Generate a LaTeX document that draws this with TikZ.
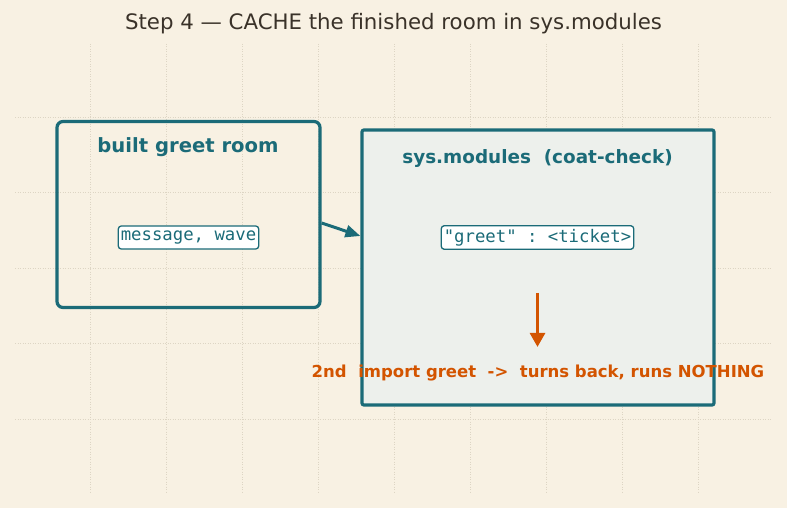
\documentclass[tikz,border=0pt]{standalone}
\usepackage{fontspec}
\setmainfont{DejaVu Sans}
\setmonofont{DejaVu Sans Mono}
\usepackage{xcolor}
\usetikzlibrary{arrows.meta,positioning,calc}

\definecolor{paper}{HTML}{F8F1E3}
\definecolor{roomteal}{HTML}{1B6B78}
\definecolor{cacheorange}{HTML}{D35400}
\definecolor{checkfill}{HTML}{EDF0EC}
\definecolor{gridink}{HTML}{DDD5C4}
\definecolor{titleink}{HTML}{3A3229}

\begin{document}
\begin{tikzpicture}[x=1pt, y=-1pt,
    room/.style={draw=roomteal, line width=3.2pt, rounded corners=6pt,
                 minimum width=263pt, minimum height=186pt, inner sep=0pt},
    check/.style={draw=roomteal, line width=3.2pt, rounded corners=2pt, fill=checkfill,
                  minimum width=352pt, minimum height=275pt, inner sep=0pt},
    head/.style={text=roomteal, font=\fontsize{19.6}{22}\selectfont\bfseries},
    tag/.style={draw=roomteal, line width=1.3pt, rounded corners=3pt, fill=white,
                text=roomteal, inner xsep=2.5pt, minimum height=23pt,
                font=\fontsize{17.3}{19}\selectfont\ttfamily},
    arr/.style={-{Triangle[length=15pt, width=12pt]}, line width=3pt, draw=roomteal},
    hot/.style={-{Triangle[length=14pt, width=15pt]}, line width=3pt, draw=cacheorange},
    note/.style={text=cacheorange, font=\fontsize{16.5}{19}\selectfont\bfseries}
]
\fill[paper] (0,0) rectangle (787,508);
% faint grid
\foreach \gx in {90,166,...,698}
  \draw[gridink, dotted, line width=0.5pt] (\gx,44) -- (\gx,492);
\foreach \gy in {117,192.5,268,343.5,419}
  \draw[gridink, dotted, line width=0.5pt] (15,\gy) -- (772,\gy);

\node[font=\fontsize{21.3}{24}\selectfont, text=titleink] (title) at (393.5,24)
  {Step 4 — CACHE the finished room in sys.modules};

\node[room] (room) at (188.5,214.5) {};
\node[check] (coat) at (538,267.5) {};

\node[head] (roomhead) at (188,147) {built greet room};
\node[tag] (names) at (188.5,237.5) {message, wave};
\node[head, font=\fontsize{18.4}{21}\selectfont\bfseries] (coathead) at (537.5,158)
  {sys.modules\ \ (coat-check)};
\node[tag] (ticket) at (537.5,237.5) {"greet" : <ticket>};
\node[note] (again) at (538,373)
  {2nd\ \ import greet\ \ ->\ \ turns back, runs NOTHING};

\draw[arr] ($(room.east)+(0,8.5)$) -- ($(coat.west)+(0,-31.5)$);
\draw[hot] ($(ticket.south)+(0,43)$) -- ($(ticket.south)+(0,97)$);
\end{tikzpicture}
\end{document}
